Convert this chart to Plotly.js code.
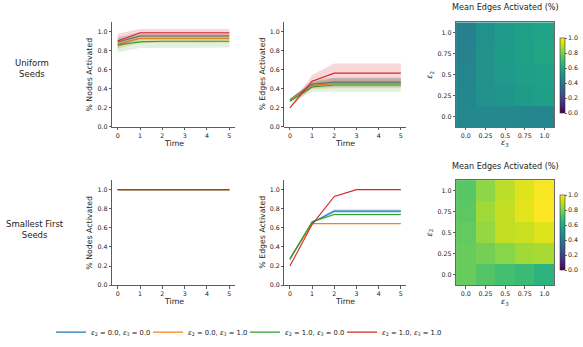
<!DOCTYPE html>
<html><head><meta charset="utf-8">
<script src="https://cdn.plot.ly/plotly-3.0.1.min.js"></script>
<style>html,body{margin:0;padding:0;background:#fff}</style>
</head><body><div id="chart" style="width:583px;height:347px"></div>
<script>
// ---------------- DATA ----------------
const time = [0, 1, 2, 3, 4, 5];
const seriesNames = [
  '<i>ε</i><sub>2</sub> = 0.0, <i>ε</i><sub>3</sub> = 0.0',
  '<i>ε</i><sub>2</sub> = 0.0, <i>ε</i><sub>3</sub> = 1.0',
  '<i>ε</i><sub>2</sub> = 1.0, <i>ε</i><sub>3</sub> = 0.0',
  '<i>ε</i><sub>2</sub> = 1.0, <i>ε</i><sub>3</sub> = 1.0'
];
const seriesColors = ['#1f77b4', '#ff7f0e', '#2ca02c', '#d62728'];
const bandColors = ['rgba(31,119,180,0.2)', 'rgba(255,127,14,0.2)', 'rgba(44,160,44,0.15)', 'rgba(214,39,40,0.18)'];

// Uniform seeds - % nodes activated (mean, std)
const uniNodes_e00 = [0.893, 0.955, 0.955, 0.955, 0.955, 0.955];
const uniNodes_e01 = [0.868, 0.930, 0.930, 0.930, 0.930, 0.930];
const uniNodes_e10 = [0.860, 0.893, 0.900, 0.900, 0.900, 0.900];
const uniNodes_e11 = [0.903, 0.990, 0.990, 0.990, 0.990, 0.990];
const uniNodesStd_e00 = [0.05, 0.04, 0.04, 0.04, 0.04, 0.04];
const uniNodesStd_e01 = [0.05, 0.045, 0.045, 0.045, 0.045, 0.045];
const uniNodesStd_e10 = [0.075, 0.065, 0.065, 0.065, 0.065, 0.065];
const uniNodesStd_e11 = [0.075, 0.04, 0.04, 0.04, 0.04, 0.04];

// Uniform seeds - % edges activated
const uniEdges_e00 = [0.285, 0.450, 0.470, 0.470, 0.470, 0.470];
const uniEdges_e01 = [0.280, 0.435, 0.455, 0.455, 0.455, 0.455];
const uniEdges_e10 = [0.270, 0.420, 0.440, 0.440, 0.440, 0.440];
const uniEdges_e11 = [0.200, 0.480, 0.565, 0.565, 0.565, 0.565];
const uniEdgesStd_e00 = [0.012, 0.04, 0.05, 0.05, 0.05, 0.05];
const uniEdgesStd_e01 = [0.012, 0.04, 0.05, 0.05, 0.05, 0.05];
const uniEdgesStd_e10 = [0.015, 0.05, 0.07, 0.07, 0.07, 0.07];
const uniEdgesStd_e11 = [0.005, 0.065, 0.10, 0.10, 0.10, 0.10];

// Smallest first seeds - % nodes activated
const sfNodes_e00 = [1.0, 1.0, 1.0, 1.0, 1.0, 1.0];
const sfNodes_e01 = [1.0, 1.0, 1.0, 1.0, 1.0, 1.0];
const sfNodes_e10 = [1.0, 1.0, 1.0, 1.0, 1.0, 1.0];
const sfNodes_e11 = [1.0, 1.0, 1.0, 1.0, 1.0, 1.0];
const sfNodesStd = [0, 0, 0, 0, 0, 0];

// Smallest first seeds - % edges activated
const sfEdges_e00 = [0.280, 0.655, 0.775, 0.775, 0.775, 0.775];
const sfEdges_e01 = [0.270, 0.645, 0.645, 0.645, 0.645, 0.645];
const sfEdges_e10 = [0.270, 0.665, 0.740, 0.740, 0.740, 0.740];
const sfEdges_e11 = [0.200, 0.635, 0.930, 1.000, 1.000, 1.000];
const sfEdgesStd_e00 = [0.008, 0.01, 0.02, 0.02, 0.02, 0.02];
const sfEdgesStd_e01 = [0.004, 0.004, 0.004, 0.004, 0.004, 0.004];
const sfEdgesStd_e10 = [0.008, 0.01, 0.012, 0.012, 0.012, 0.012];
const sfEdgesStd_e11 = [0.002, 0.003, 0.003, 0.002, 0.002, 0.002];

// Heatmaps: rows = eps2 (0 -> 1), cols = eps3 (0 -> 1)
const epsValues = [0.0, 0.25, 0.5, 0.75, 1.0];
const epsLabels = ['0.0', '0.25', '0.5', '0.75', '1.0'];
const heatUniform = [
  [0.47, 0.47, 0.465, 0.46, 0.45],
  [0.46, 0.50, 0.52, 0.55, 0.56],
  [0.45, 0.51, 0.54, 0.56, 0.57],
  [0.44, 0.51, 0.55, 0.57, 0.585],
  [0.43, 0.50, 0.54, 0.57, 0.58]
];
const heatSmallest = [
  [0.77, 0.73, 0.70, 0.68, 0.64],
  [0.77, 0.79, 0.82, 0.86, 0.87],
  [0.76, 0.84, 0.91, 0.92, 0.95],
  [0.75, 0.86, 0.91, 0.96, 1.00],
  [0.74, 0.83, 0.90, 0.95, 0.99]
];
const colorbarTicks = [0, 0.2, 0.4, 0.6, 0.8, 1.0];
const colorbarLabels = ['0.0', '0.2', '0.4', '0.6', '0.8', '1.0'];
const yTicks = [0, 0.2, 0.4, 0.6, 0.8, 1.0];
const yTickLabels = ['0.0', '0.2', '0.4', '0.6', '0.8', '1.0'];

// ---------------- TRACES ----------------
const FONT = 'DejaVu Sans, Arial, sans-serif';
const legendIds = ['legend', 'legend2', 'legend3', 'legend4'];
const traces = [];
function addPanel(means, stds, xa, ya, legend) {
  means.forEach((m, i) => {
    const s = stds[i];
    const up = m.map((v, k) => v + s[k]);
    const lo = m.map((v, k) => v - s[k]);
    traces.push({
      x: time.concat(time.slice().reverse()),
      y: up.concat(lo.slice().reverse()),
      xaxis: xa, yaxis: ya, type: 'scatter', mode: 'lines',
      fill: 'toself', fillcolor: bandColors[i], line: {width: 0},
      hoverinfo: 'skip', showlegend: false
    });
    traces.push({
      x: time, y: m, xaxis: xa, yaxis: ya, type: 'scatter', mode: 'lines',
      line: {color: seriesColors[i], width: 1.1},
      name: seriesNames[i], showlegend: legend, legend: legendIds[i]
    });
  });
}
addPanel([uniNodes_e00, uniNodes_e01, uniNodes_e10, uniNodes_e11],
         [uniNodesStd_e00, uniNodesStd_e01, uniNodesStd_e10, uniNodesStd_e11], 'x', 'y', true);
addPanel([uniEdges_e00, uniEdges_e01, uniEdges_e10, uniEdges_e11],
         [uniEdgesStd_e00, uniEdgesStd_e01, uniEdgesStd_e10, uniEdgesStd_e11], 'x2', 'y2', false);
addPanel([sfNodes_e00, sfNodes_e01, sfNodes_e10, sfNodes_e11],
         [sfNodesStd, sfNodesStd, sfNodesStd, sfNodesStd], 'x4', 'y4', false);
addPanel([sfEdges_e00, sfEdges_e01, sfEdges_e10, sfEdges_e11],
         [sfEdgesStd_e00, sfEdgesStd_e01, sfEdgesStd_e10, sfEdgesStd_e11], 'x5', 'y5', false);

function heat(z, xa, ya, cy) {
  return {
    type: 'heatmap', x: epsValues, y: epsValues, z: z, xaxis: xa, yaxis: ya,
    colorscale: 'Viridis', zmin: 0, zmax: 1, showlegend: false,
    colorbar: {
      x: 0.9605, xanchor: 'left', xpad: 0, ypad: 0,
      y: cy, yanchor: 'middle', len: 76 / 347, lenmode: 'fraction',
      thickness: 5, outlinewidth: 0.6, outlinecolor: '#333',
      tickvals: colorbarTicks, ticktext: colorbarLabels,
      ticks: 'outside', ticklen: 2, tickwidth: 0.7, tickcolor: '#333',
      tickfont: {family: FONT, size: 6.3, color: '#222'}
    }
  };
}
traces.push(heat(heatUniform, 'x3', 'y3', 0.780));
traces.push(heat(heatSmallest, 'x6', 'y6', 0.324));

// ---------------- LAYOUT ----------------
const W = 583, H = 347;
const colX = [[0.1923, 0.4029], [0.4877, 0.6971], [0.7822, 0.9508]];
const rowY = [[0.6311, 0.9354], [0.1709, 0.4764]];
const tickFont = {family: FONT, size: 6.3, color: '#222'};
const labelFont = {family: FONT, size: 7.8, color: '#222'};

function baseAxis(dom, anchor) {
  return {domain: dom, anchor: anchor,
    showline: true, linecolor: '#333', linewidth: 0.8, mirror: false,
    ticks: 'outside', ticklen: 2.5, tickwidth: 0.8, tickcolor: '#333',
    showgrid: false, zeroline: false, tickfont: tickFont};
}
function lineX(dom, anchor) {
  return Object.assign(baseAxis(dom, anchor), {range: [-0.25, 5.25], tickvals: time});
}
function lineY(dom, anchor) {
  return Object.assign(baseAxis(dom, anchor), {range: [0, 1.1], tickvals: yTicks, ticktext: yTickLabels});
}
function heatAx(dom, anchor) {
  return Object.assign(baseAxis(dom, anchor), {range: [-0.125, 1.125], tickvals: epsValues,
    ticktext: epsLabels, mirror: true, linecolor: '#444'});
}

function ann(text, px, py, opts) {
  return Object.assign({text: text, x: px / W, y: (H - py) / H, xref: 'paper', yref: 'paper',
    showarrow: false, font: labelFont, xanchor: 'center', yanchor: 'middle'}, opts || {});
}
const legendItemStarts = [51, 148, 245, 342];
function legendBox(i) {
  return {orientation: 'h', x: legendItemStarts[i] / W, xanchor: 'left', y: 12 / H, yanchor: 'middle',
    font: {family: FONT, size: 6.8, color: '#222'}, bgcolor: 'rgba(0,0,0,0)', borderwidth: 0,
    itemclick: false, itemdoubleclick: false};
}

const layout = {
  width: W, height: H,
  margin: {l: 0, r: 0, t: 0, b: 0},
  paper_bgcolor: '#fff', plot_bgcolor: '#fff',
  font: {family: FONT, size: 7, color: '#222'},
  xaxis: lineX(colX[0], 'y'), yaxis: lineY(rowY[0], 'x'),
  xaxis2: lineX(colX[1], 'y2'), yaxis2: lineY(rowY[0], 'x2'),
  xaxis3: heatAx(colX[2], 'y3'), yaxis3: heatAx(rowY[0], 'x3'),
  xaxis4: lineX(colX[0], 'y4'), yaxis4: lineY(rowY[1], 'x4'),
  xaxis5: lineX(colX[1], 'y5'), yaxis5: lineY(rowY[1], 'x5'),
  xaxis6: heatAx(colX[2], 'y6'), yaxis6: heatAx(rowY[1], 'x6'),
  showlegend: true,
  legend: legendBox(0), legend2: legendBox(1), legend3: legendBox(2), legend4: legendBox(3),
  annotations: [
    ann('Uniform<br>Seeds', 32, 69, {font: {family: FONT, size: 8.5, color: '#222'}}),
    ann('Smallest First<br>Seeds', 35, 231.5, {font: {family: FONT, size: 8.5, color: '#222'}}),
    ann('Mean Edges Activated (%)', 505, 7.3, {font: {family: FONT, size: 8.1, color: '#222'}}),
    ann('Mean Edges Activated (%)', 505, 167, {font: {family: FONT, size: 8.1, color: '#222'}}),
    // axis titles
    ann('% Nodes Activated', 90, 75.2, {textangle: -90}),
    ann('% Edges Activated', 263, 75.2, {textangle: -90}),
    ann('<i>ε</i><sub>2</sub>', 430, 75.3, {textangle: -90}),
    ann('% Nodes Activated', 90, 234.7, {textangle: -90}),
    ann('% Edges Activated', 263, 234.7, {textangle: -90}),
    ann('<i>ε</i><sub>2</sub>', 430, 234.5, {textangle: -90}),
    ann('Time', 173.5, 144.7),
    ann('Time', 345.4, 144.7),
    ann('<i>ε</i><sub>3</sub>', 505.2, 144.5),
    ann('Time', 173.5, 304.5),
    ann('Time', 345.4, 304.5),
    ann('<i>ε</i><sub>3</sub>', 505.2, 304.2)
  ]
};

Plotly.newPlot('chart', traces, layout, {displayModeBar: false, staticPlot: true});
</script>
</body></html>
